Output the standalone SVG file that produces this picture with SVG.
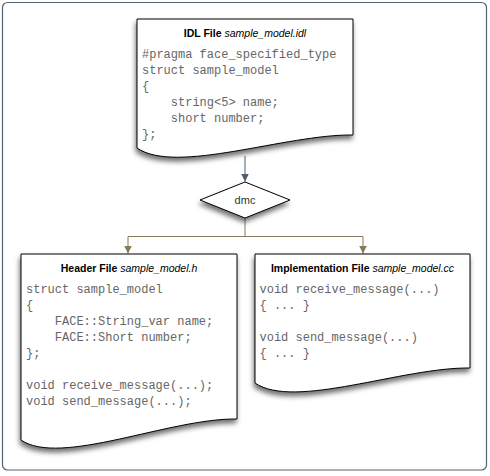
<svg xmlns="http://www.w3.org/2000/svg" width="490" height="476" viewBox="0 0 490 476">
  <style>
    .doc { fill: #ffffff; stroke: #000000; stroke-width: 1; filter: url(#shadow); }
    .title { font-family: "Liberation Sans", Arial, sans-serif; font-size: 10.5px; fill: #000000; text-anchor: middle; }
    .title .b { font-weight: bold; }
    .title .i { font-style: italic; }
    .code { font-family: "Liberation Mono", "Courier New", monospace; font-size: 12px; fill: #666666; white-space: pre; }
    .label { font-family: "Liberation Sans", Arial, sans-serif; font-size: 11px; fill: #333333; text-anchor: middle; }
    .blue { stroke: #4c5d70; stroke-width: 1; fill: none; }
    .olive { stroke: #857a5c; stroke-width: 1; fill: none; }
  </style>
  <defs>
    <filter id="shadow" x="-20%" y="-20%" width="140%" height="150%">
      <feDropShadow dx="-1" dy="4" stdDeviation="2.5" flood-color="#000000" flood-opacity="0.55"/>
    </filter>
    <marker id="arrBlue" viewBox="0 0 8 10" refX="8" refY="5" markerWidth="8" markerHeight="10" markerUnits="userSpaceOnUse" orient="auto">
      <path d="M0,1 L8,5 L0,9 Z" fill="#4c5d70"/>
    </marker>
    <marker id="arrOlive" viewBox="0 0 8 10" refX="8" refY="5" markerWidth="8" markerHeight="10" markerUnits="userSpaceOnUse" orient="auto">
      <path d="M0,1 L8,5 L0,9 Z" fill="#857a5c"/>
    </marker>
  </defs>

  <rect id="frame" x="2.5" y="2.5" width="484" height="467.5" rx="5" ry="5" fill="#ffffff" stroke="#536373" stroke-width="1.2"/>

  <g id="connectors">
    <line class="blue" x1="245" y1="156" x2="245" y2="181.5" marker-end="url(#arrBlue)"/>
    <line class="olive" x1="245" y1="218" x2="245" y2="236.5"/>
    <path class="olive" d="M245,236.5 H128 V253.5" marker-end="url(#arrOlive)"/>
    <path class="olive" d="M245,236.5 H363 V253.5" marker-end="url(#arrOlive)"/>
  </g>

  <g id="idl-file">
    <path class="doc" d="M137,19 H353 V135 C286,134 176,175 137,148 Z"/>
    <text class="title" x="245" y="37"><tspan class="b">IDL File</tspan> <tspan class="i">sample_model.idl</tspan></text>
    <text class="code" x="142" y="58">#pragma face_specified_type</text>
    <text class="code" x="142" y="74">struct sample_model</text>
    <text class="code" x="142" y="90">{</text>
    <text class="code" x="142" y="106">    string&lt;5&gt; name;</text>
    <text class="code" x="142" y="122">    short number;</text>
    <text class="code" x="142" y="138">};</text>
  </g>

  <g id="dmc">
    <path d="M245,182 L290,200 L245,218 L200,200 Z" fill="#ffffff" stroke="#000000" stroke-width="1" filter="url(#shadow)"/>
    <text class="label" x="245" y="204">dmc</text>
  </g>

  <g id="header-file">
    <path class="doc" d="M21,254 H237 V419 C170,418 60,467 21,440 Z"/>
    <text class="title" x="129" y="272"><tspan class="b">Header File</tspan> <tspan class="i">sample_model.h</tspan></text>
    <text class="code" x="26" y="293">struct sample_model</text>
    <text class="code" x="26" y="309">{</text>
    <text class="code" x="26" y="325">    FACE::String_var name;</text>
    <text class="code" x="26" y="341">    FACE::Short number;</text>
    <text class="code" x="26" y="357">};</text>
    <text class="code" x="26" y="389">void receive_message(...);</text>
    <text class="code" x="26" y="405">void send_message(...);</text>
  </g>

  <g id="implementation-file">
    <path class="doc" d="M255,254 H470 V368 C403,367 294,410 255,383 Z"/>
    <text class="title" x="362.5" y="272"><tspan class="b">Implementation File</tspan> <tspan class="i">sample_model.cc</tspan></text>
    <text class="code" x="259.5" y="293">void receive_message(...)</text>
    <text class="code" x="259.5" y="309">{ ... }</text>
    <text class="code" x="259.5" y="341">void send_message(...)</text>
    <text class="code" x="259.5" y="357">{ ... }</text>
  </g>
</svg>
